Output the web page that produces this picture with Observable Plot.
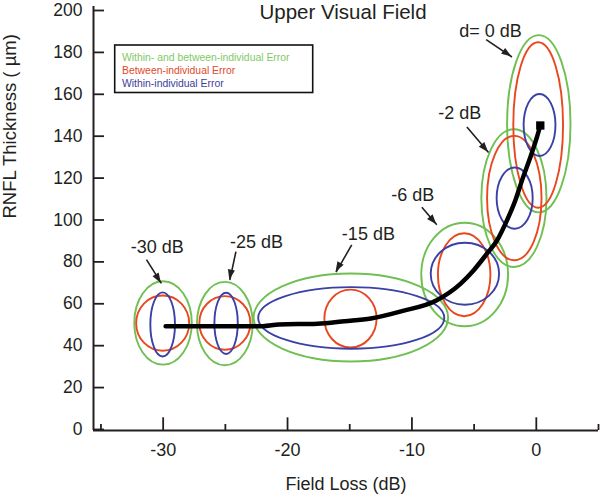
<!DOCTYPE html>
<html>
<head>
<meta charset="utf-8">
<script src="https://cdn.jsdelivr.net/npm/d3@7"></script>
<script src="https://cdn.jsdelivr.net/npm/@observablehq/plot@0.6"></script>
<style>
  html, body { margin: 0; padding: 0; background: white; }
</style>
</head>
<body>
<div id="chart"></div>
<script>
// ---- data ----
const title = "Upper Visual Field";
const xLabel = "Field Loss (dB)";
const yLabel = "RNFL Thickness ( \u00b5m)";
const xMajorTicks = [-30, -20, -10, 0];
const xMinorTicks = [-35, -25, -15, -5, 5];
const yTicks = [0, 20, 40, 60, 80, 100, 120, 140, 160, 180, 200];
const xDomain = [-35.6, 5];
const yDomain = [-2.4, 200];

// mean curve
const curveX = [-29.8, -22, -20.7, -17.6, -15.4, -13.3, -10.8, -8, -6.1, -5.05, -3.97, -3.16, -2.36, -1.69, -1.15, -0.48, 0.05, 0.32];
const curveY = [47.4, 47.4, 48.2, 48.6, 49.8, 51.1, 54.6, 59.8, 67.6, 74, 82, 88.3, 97.9, 107.4, 117, 128, 137.6, 143.2];
const endPoint = [[0.32, 143.2]];

// error ellipses: [centre field loss, centre thickness, half-width dB, half-height µm]
const combinedError = [ // within- and between-individual (green)
  [-29.97, 48.7, 2.31, 19.9], [-25, 48.4, 2.24, 19.9], [-14.87, 51.3, 7.82, 21],
  [-5.72, 71.8, 3.49, 24.7], [-1.76, 108.3, 2.62, 32.9], [0.24, 143.8, 2.55, 42.3]
];
const betweenError = [ // red
  [-30, 48.6, 2.13, 13.2], [-25, 48.7, 2.05, 12.8], [-14.9, 50.8, 2.1, 13.8],
  [-5.76, 71.7, 2.11, 19.8], [-1.73, 108.3, 2.19, 29.7], [0.19, 143.2, 2.0, 39.5]
];
const withinError = [ // blue
  [-30, 48, 0.99, 15.3], [-24.9, 48.5, 0.94, 14.6], [-14.84, 51.1, 7.48, 14.7],
  [-5.7, 72.2, 2.75, 14.8], [-1.7, 108.3, 1.45, 14.6], [0.3, 143.2, 1.28, 14.8]
];

// annotation labels and arrows
const annLabels = ["-30 dB", "-25 dB", "-15 dB", "-6 dB", "-2 dB", "d= 0 dB"];
const annLabelX = [-30.47, -22.5, -13.5, -9.94, -6.16, -3.68];
const annLabelY = [85.3, 87.6, 91.3, 110, 149.2, 188.3];
const arrowX1 = [-31.34, -24.15, -14.84, -9.2, -5.58, -4.03];
const arrowY1 = [79.2, 83, 86.2, 104.2, 142.5, 184.2];
const arrowX2 = [-30.14, -24.64, -16.1, -8.0, -3.84, -1.96];
const arrowY2 = [67.8, 69.4, 73.2, 95.8, 130.3, 175.9];

const legendLabels = ["Within- and between-individual Error", "Between-individual Error", "Within-individual Error"];

// ---- styles ----
const colGreen = "#6fbf52", colRed = "#e8471f", colBlue = "#3a40a6";
const legendColors = ["#82c866", "#e2482a", "#3c3e9c"];
const ink = "#231f20";

const curve = curveX.map((x, i) => ({x, y: curveY[i]}));
const annotations = annLabels.map((label, i) => ({label, x: annLabelX[i], y: annLabelY[i]}));
const arrows = arrowX1.map((x1, i) => ({x1, y1: arrowY1[i], x2: arrowX2[i], y2: arrowY2[i]}));
const ellipseSeries = [
  {data: combinedError, color: colGreen},
  {data: betweenError, color: colRed},
  {data: withinError, color: colBlue}
];

function ellipseLayer(index, scales) {
  const {x, y} = scales;
  const g = d3.create("svg:g").attr("fill", "none");
  for (const s of ellipseSeries) {
    for (const [cx, cy, rx, ry] of s.data) {
      const px = x(cx), py = y(cy);
      g.append("ellipse")
        .attr("cx", px).attr("cy", py)
        .attr("rx", Math.abs(x(cx + rx) - px))
        .attr("ry", Math.abs(y(cy + ry) - py))
        .attr("stroke", s.color).attr("stroke-width", 1.9);
    }
  }
  return g.node();
}

function arrowHeads(index, scales) {
  const {x, y} = scales;
  const g = d3.create("svg:g").attr("fill", ink);
  for (const a of arrows) {
    const sx = x(a.x1), sy = y(a.y1), ex = x(a.x2), ey = y(a.y2);
    const ang = Math.atan2(ey - sy, ex - sx);
    const L = 10, Wd = 3.6;
    const bx = ex - L * Math.cos(ang), by = ey - L * Math.sin(ang);
    const nx = -Math.sin(ang) * Wd, ny = Math.cos(ang) * Wd;
    g.append("path").attr("d", `M${ex},${ey}L${bx + nx},${by + ny}L${bx - nx},${by - ny}Z`);
  }
  return g.node();
}

function legendBox(index, scales, values, dimensions) {
  const {marginLeft, marginTop} = dimensions;
  return d3.create("svg:rect")
    .attr("x", marginLeft + 21.7).attr("y", marginTop + 39)
    .attr("width", 198).attr("height", 47.5)
    .attr("fill", "white").attr("stroke", "#111").attr("stroke-width", 1.6)
    .node();
}

const legendMarks = legendLabels.map((t, i) =>
  Plot.text([t], {frameAnchor: "top-left", dx: 28.5, dy: 51.3 + i * 12.9, textAnchor: "start",
    fontSize: 10.4, fill: legendColors[i], lineAnchor: "middle"}));

const chart = Plot.plot({
  width: 600,
  height: 500,
  marginLeft: 93,
  marginRight: 2,
  marginTop: 6,
  marginBottom: 70,
  x: {domain: xDomain, label: null},
  y: {domain: yDomain, label: null},
  style: {fontFamily: "'Liberation Sans', Arial, Helvetica, sans-serif", color: ink, background: "white", overflow: "visible"},
  marks: [
    legendBox,
    ...legendMarks,
    Plot.ruleX([xDomain[0]], {y1: yDomain[0], y2: yTicks[yTicks.length - 1], stroke: ink, strokeWidth: 2}),
    Plot.ruleY([yDomain[0]], {x1: xDomain[0], x2: xDomain[1], stroke: ink, strokeWidth: 2}),
    Plot.axisY({ticks: yTicks, tickSize: -11, tickPadding: 22, fontSize: 17.5, strokeWidth: 1.8, dy: 4,
      tickFormat: d => `${d}`, label: null, color: ink}),
    Plot.axisX({ticks: xMajorTicks, tickSize: -12.7, tickPadding: 25, fontSize: 18, strokeWidth: 1.8,
      tickFormat: d => `${d}`, label: null, color: ink}),
    Plot.axisX({ticks: xMinorTicks, tickSize: -6, fill: "none", stroke: ink, strokeWidth: 1.8, label: null}),
    ellipseLayer,
    Plot.line(curve, {x: "x", y: "y", stroke: "black", strokeWidth: 4.5, curve: "monotone-x"}),
    Plot.dot(endPoint, {x: d => d[0], y: d => d[1], symbol: "square", r: 4.7, fill: "black"}),
    Plot.link(arrows, {x1: "x1", y1: "y1", x2: "x2", y2: "y2", stroke: ink, strokeWidth: 1.6}),
    arrowHeads,
    Plot.text(annotations, {x: "x", y: "y", text: "label", fontSize: 18, fill: ink}),
    Plot.text([title], {frameAnchor: "top", dy: 6, dx: -3, fontSize: 20.5, fill: ink, lineAnchor: "middle"}),
    Plot.text([yLabel], {frameAnchor: "left", rotate: -90, dx: -83.8, dy: 0, fontSize: 18.5, fill: ink}),
    Plot.text([xLabel], {frameAnchor: "bottom", dy: 59, fontSize: 18, fill: ink})
  ]
});
document.getElementById("chart").append(chart);
</script>
</body>
</html>
